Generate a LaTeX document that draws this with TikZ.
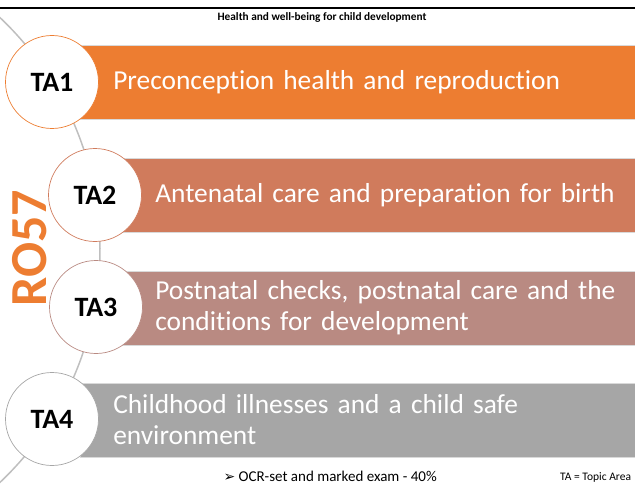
\documentclass[tikz,border=0pt]{standalone}
\usepackage{fontspec}
\setmainfont{Carlito}[Ligatures=NoCommon]
\newfontfamily\symfont{DejaVu Sans}
\usetikzlibrary{positioning,calc}
\definecolor{taorange}{HTML}{ED7D31}
\definecolor{taclay}{HTML}{D07B5C}
\definecolor{tarose}{HTML}{B98A82}
\definecolor{tagrey}{HTML}{A6A6A6}
\definecolor{arcgrey}{HTML}{BFBFBF}

\begin{document}
\begin{tikzpicture}[x=1pt,y=-1pt,
            tacirc/.style={circle,fill=white,line width=0.7pt,minimum
              size=93pt,inner sep=0pt,font=\bfseries\fontsize{28}{30}\selectfont},
            tabar/.style={anchor=west,draw=white!85!black,line width=0.5pt,
              minimum height=74pt,inner xsep=33pt,inner ysep=2pt,text width=500pt,
              align=left,text=white,font=\fontsize{27.4}{31}\selectfont}
            ]
            \useasboundingbox (0,0) rectangle (635,487);
            % spine
            \draw[arcgrey,line width=1.5pt] (-220,250) ++(-47:320)
            arc[start angle=-47,end angle=47,radius=320];
            \draw[line width=2.2pt] (0,8) -- (635,8);
            \node[font=\bfseries\fontsize{11.3}{13}\selectfont] (title) at
            (322,17.5) {Health and well-being for child development};
            % topic bars
            \node[tabar,fill=taorange] (bar1) at (80,82) {Preconception
              health and reproduction}; \node[tabar,fill=taclay] (bar2)
            at (122,195) {Antenatal care and preparation for birth};
            \node[tabar,fill=tarose] (bar3) at (122,308) {Postnatal
              checks, postnatal care and the\\conditions for development};
            \node[tabar,fill=tagrey] (bar4) at (80,420) {Childhood
              illnesses and a child safe\\environment};
            % topic circles
            \node[tacirc,draw=taorange] (ta1) at (52,82) {TA1};
            \node[tacirc,draw=taclay] (ta2) at (95,195) {TA2};
            \node[tacirc,draw=tarose] (ta3) at (96,307) {TA3};
            \node[tacirc,draw=tagrey] (ta4) at (52,419) {TA4};
            \node[rotate=90,text=taorange,font=\bfseries\fontsize{52}{54}\selectfont]
            (unit) at (30,248) {RO57};
            % footer
            \node[anchor=west,font=\fontsize{15}{18}\selectfont] (exam)
            at (220,476) {{\symfont\fontsize{14}{14}\selectfont ➢}\ OCR-set
              and marked exam - 40\%}; \node[anchor=west,inner xsep=0pt,font=\fontsize{11.5}{14}\selectfont]
            (key) at (560,477) {TA = Topic Area};
          \end{tikzpicture}
\end{document}
